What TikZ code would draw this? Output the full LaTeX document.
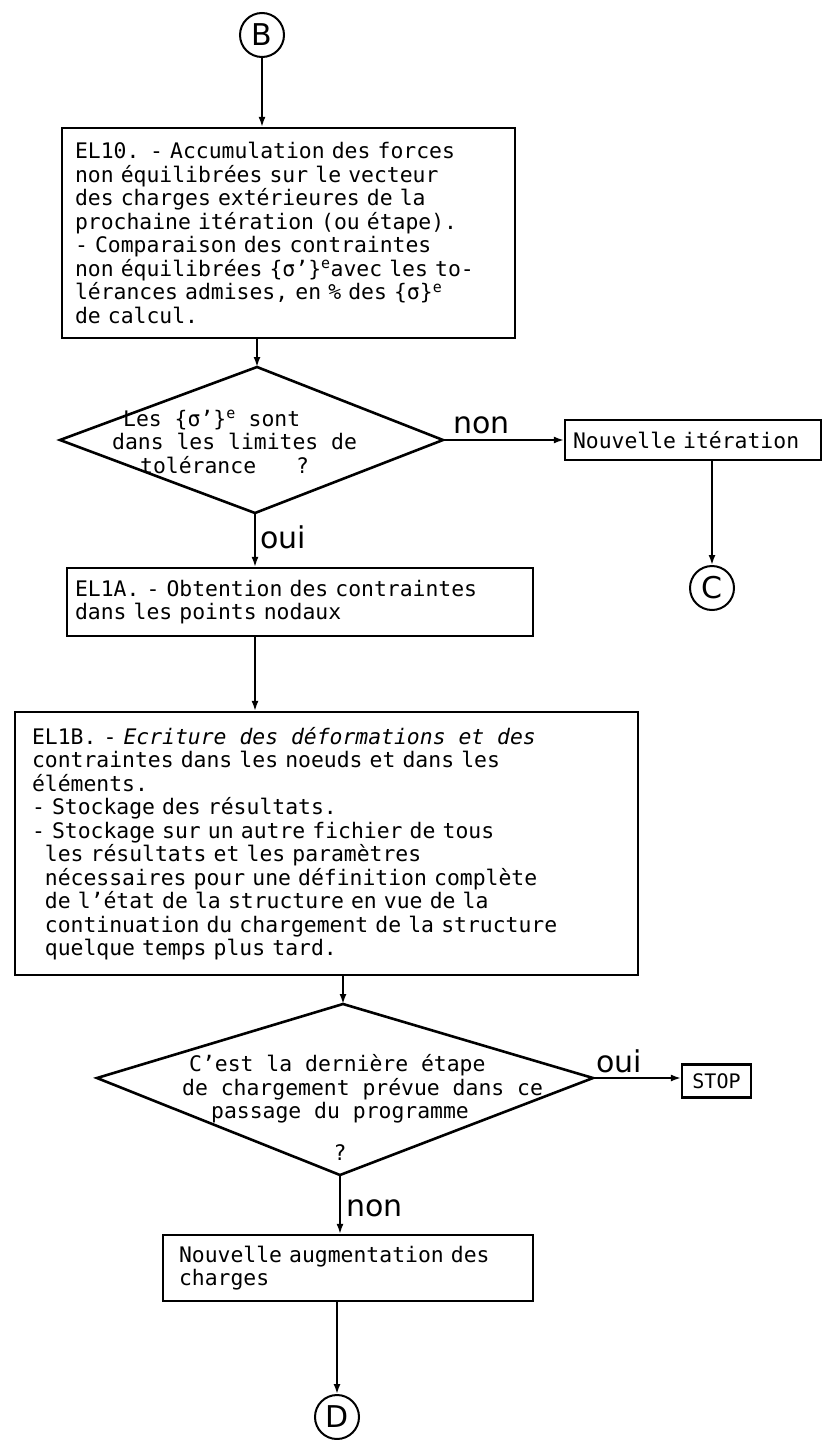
\documentclass[tikz,border=0pt]{standalone}
\usepackage{fontspec}
\setmainfont{DejaVu Sans Mono}
\newfontfamily\letterfont{DejaVu Sans}
\usetikzlibrary{arrows.meta}
\newcommand\txtsize{\fontsize{21.4}{23.5}\selectfont\spaceskip=0.602em\xspaceskip=0.602em\relax}
\newcommand\bigword{\letterfont\fontsize{30}{32}\selectfont}
\newcommand\stopsize{\fontsize{20}{22}\selectfont}
\newcommand\sig[1]{\{σ#1\}\textsuperscript{e}}
\begin{document}
\begin{tikzpicture}[x=1pt, y=-1pt, every node/.style={font=\txtsize},
  box/.style={draw, line width=2.2pt, align=left, inner ysep=0pt},
  conn/.style={draw, circle, line width=2pt, minimum size=44pt, inner sep=0pt, font=\bigword},
  word/.style={anchor=base west, inner sep=0pt, font=\bigword},
  flow/.style={line width=1.8pt, -{Latex[length=10pt,width=7pt]}},
  rhomb/.style={line width=2.6pt, line join=miter}]
  \useasboundingbox[fill=white] (0,0) rectangle (823,1440);
  \node[conn] (b) at (262,35) {B};
  \node[box, text width=427pt, inner xsep=13pt, minimum height=210pt] (el10) at (288.5,233)
    {EL10. - Accumulation des forces\\non équilibrées sur le vecteur\\des charges extérieures de la\\prochaine itération (ou étape).\\- Comparaison des contraintes\\non équilibrées \sig{'}avec les to-\\lérances admises, en \% des \sig{}\\de calcul.};
  \coordinate (tolt) at (257,367);
  \coordinate (toll) at (60,440);
  \coordinate (tolr) at (443,440);
  \coordinate (tolb) at (255,513);
  \draw[rhomb] (tolt) -- (tolr) -- (tolb) -- (toll) -- cycle;
  \node[anchor=west, align=left, inner sep=0pt] (tol) at (112,442)
    {\hspace*{11pt}Les \sig{'} sont\\dans les limites de\\\hspace*{28pt}tolérance\hspace{40pt}?};
  \node[box, text width=240pt, inner xsep=8pt, minimum height=40pt] (nit) at (693,440) {Nouvelle itération};
  \node[conn] (c) at (712,588) {C};
  \node[word] (non1) at (453,433) {non};
  \node[word] (oui1) at (260,548) {oui};
  \node[box, text width=450pt, inner xsep=8pt, minimum height=68pt] (el1a) at (300,602)
    {EL1A. - Obtention des contraintes\\dans les points nodaux};
  \node[box, text width=589pt, inner xsep=17pt, minimum height=263pt] (el1b) at (326.5,843.5)
    {EL1B. - {\itshape\spaceskip=0.602em Ecriture des déformations et des}\\contraintes dans les noeuds et dans les\\éléments.\\- Stockage des résultats.\\- Stockage sur un autre fichier de tous\\\hphantom{--}les résultats et les paramètres\\\hphantom{--}nécessaires pour une définition complète\\\hphantom{--}de l'état de la structure en vue de la\\\hphantom{--}continuation du chargement de la structure\\\hphantom{--}quelque temps plus tard.};
  \coordinate (lastt) at (343,1004);
  \coordinate (lastl) at (97,1078);
  \coordinate (lastr) at (593,1078);
  \coordinate (lastb) at (340,1175);
  \draw[rhomb] (lastt) -- (lastr) -- (lastb) -- (lastl) -- cycle;
  \node[anchor=west, align=left, inner sep=0pt] (last) at (182,1089)
    {\hspace*{7pt}C'est la dernière étape\\de chargement prévue dans ce\\\hspace*{29pt}passage du programme};
  \node[inner sep=0pt] (q) at (340,1153) {?};
  \node[box, font=\stopsize, inner xsep=8pt, minimum width=69pt, minimum height=33pt] (stop) at (716.5,1081) {STOP};
  \node[word] (oui2) at (596,1072) {oui};
  \node[word] (non2) at (346,1216) {non};
  \node[box, text width=338pt, inner xsep=16pt, minimum height=66pt] (aug) at (348,1268)
    {Nouvelle augmentation des\\charges};
  \node[conn] (d) at (337,1417) {D};
  \draw[flow] (b) -- (b |- el10.north);
  \draw[flow] (el10.south -| tolt) -- (tolt);
  \draw[flow] (tolr) -- (tolr -| nit.west);
  \draw[flow] (c |- nit.south) -- (c);
  \draw[flow] (tolb) -- (tolb |- el1a.north);
  \draw[flow] (el1a.south -| tolb) -- (tolb |- el1b.north);
  \draw[flow] (el1b.south -| lastt) -- (lastt);
  \draw[flow] (lastr) -- (lastr -| stop.west);
  \draw[flow] (lastb) -- (lastb |- aug.north);
  \draw[flow] (d |- aug.south) -- (d);
\end{tikzpicture}
\end{document}
